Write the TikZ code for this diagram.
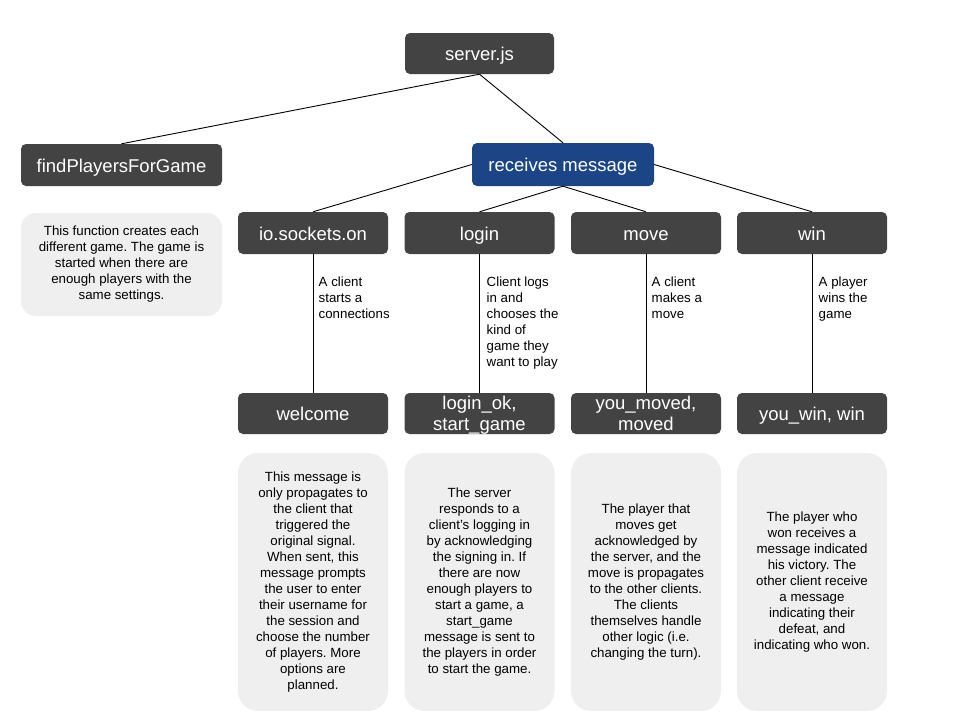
\documentclass[tikz,border=0pt]{standalone}
\usepackage{fontspec}
\setmainfont{Liberation Sans}
\frenchspacing
\definecolor{boxdark}{HTML}{434343}
\definecolor{boxblue}{HTML}{1C4587}
\definecolor{boxlight}{HTML}{EFEFEF}
\tikzset{
  darkbox/.style={rectangle, rounded corners=5pt, fill=boxdark, text=white, inner sep=0pt,
    minimum width=150pt, minimum height=42pt, align=center,
    text height=14.4pt, text depth=0pt,
    font=\fontsize{18.5}{19}\selectfont},
  twoline/.style={text height=34.5pt, text depth=0pt, font=\fontsize{18.5}{21}\selectfont},
  bluebox/.style={darkbox, fill=boxblue},
  descbox/.style={rectangle, rounded corners=20pt, fill=boxlight, text=black, inner sep=0pt,
    minimum width=150pt, minimum height=258pt, align=center,
    font=\fontsize{13.3}{16}\selectfont},
  lbl/.style={inner sep=0pt, align=left, anchor=north west, text=black,
    font=\fontsize{13.3}{16}\selectfont},
  conn/.style={draw=black, line width=0.9pt}
}
\begin{document}
\begin{tikzpicture}[x=1pt, y=-1pt]
\useasboundingbox (0,0) rectangle (960,720);
% top
\node[darkbox, minimum width=149pt, minimum height=41pt] (server) at (479.5,53.5) {server.js};
\node[darkbox, minimum width=201pt] (find) at (121.5,165) {findPlayersForGame};
\node[bluebox, minimum width=182pt, minimum height=43pt] (recv) at (563,164.5) {receives message};
\node[descbox, minimum width=201pt, minimum height=103pt, rounded corners=15pt] (finddesc) at (121.5,264.5)
  {This function creates each\\different game. The game is\\started when there are\\enough players with the\\same settings.};
% row 2
\node[darkbox] (io) at (313,233) {io.sockets.on};
\node[darkbox] (login) at (479.5,233) {login};
\node[darkbox] (move) at (646,233) {move};
\node[darkbox] (win) at (812,233) {win};
% row 3
\node[darkbox, minimum height=41pt] (welcome) at (313,413.5) {welcome};
\node[darkbox, twoline, minimum height=41pt] (loginok) at (479.5,413.5) {login\_ok,\\start\_game};
\node[darkbox, twoline, minimum height=41pt] (moved) at (646,413.5) {you\_moved,\\moved};
\node[darkbox, minimum height=41pt] (youwin) at (812,413.5) {you\_win, win};
% descriptions
\node[descbox] (d1) at (313,582) {This message is\\only propagates to\\the client that\\triggered the\\original signal.\\When sent, this\\message prompts\\the user to enter\\their username for\\the session and\\choose the number\\of players. More\\options are\\planned.};
\node[descbox] (d2) at (479.5,582) {The server\\responds to a\\client’s logging in\\by acknowledging\\the signing in. If\\there are now\\enough players to\\start a game, a\\start\_game\\message is sent to\\the players in order\\to start the game.};
\node[descbox] (d3) at (646,582) {The player that\\moves get\\acknowledged by\\the server, and the\\move is propagates\\to the other clients.\\The clients\\themselves handle\\other logic (i.e.\\changing the turn).};
\node[descbox] (d4) at (812,582) {The player who\\won receives a\\message indicated\\his victory. The\\other client receive\\a message\\indicating their\\defeat, and\\indicating who won.};
% connectors
\draw[conn] (server.south) -- (find.north);
\draw[conn] (server.south) -- (recv.north);
\draw[conn] (recv.west) -- (io.north);
\draw[conn] (recv.south) -- (login.north);
\draw[conn] (recv.south) -- (move.north);
\draw[conn] (recv.east) -- (win.north);
\draw[conn] (io.south) -- (welcome.north);
\draw[conn] (login.south) -- (loginok.north);
\draw[conn] (move.south) -- (moved.north);
\draw[conn] (win.south) -- (youwin.north);
% labels
\node[lbl] (l1) at (318.5,277) {A client\\starts a\\connections};
\node[lbl] (l2) at (486.5,277) {Client logs\\in and\\chooses the\\kind of\\game they\\want to play};
\node[lbl] (l3) at (651.5,277) {A client\\makes a\\move};
\node[lbl] (l4) at (818.5,277) {A player\\wins the\\game};
\end{tikzpicture}
\end{document}
